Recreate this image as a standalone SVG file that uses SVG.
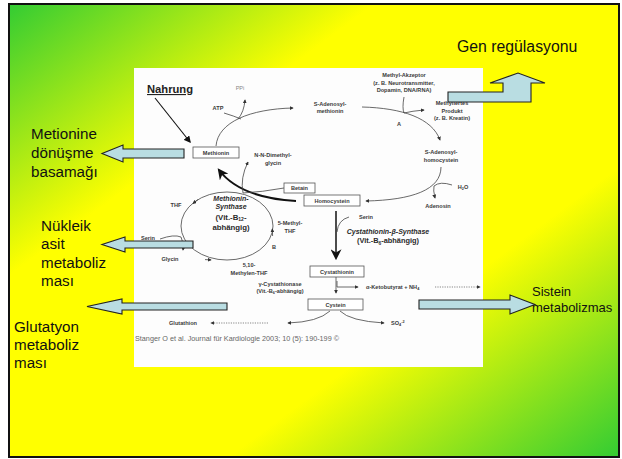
<svg xmlns="http://www.w3.org/2000/svg" width="622" height="459" viewBox="0 0 622 459">
<style>
.big{font-family:"Liberation Sans",Arial,sans-serif;font-size:15.2px;fill:#111}
.sm{font-family:"Liberation Sans",Arial,sans-serif;font-size:5.6px;font-weight:bold;fill:#3a3a3a;text-anchor:middle}
.md{font-family:"Liberation Sans",Arial,sans-serif;font-weight:bold;fill:#2a2a2a;text-anchor:middle}
.box{fill:#fff;stroke:#555;stroke-width:0.8}
.ln{fill:none;stroke:#444;stroke-width:0.8}
.dot{fill:none;stroke:#555;stroke-width:0.7;stroke-dasharray:1.2 1.2}
.thick{fill:none;stroke:#111}
.barrow{fill:#b9dde2;stroke:#222;stroke-width:1.1;stroke-linejoin:miter}
</style>
<defs>
<linearGradient id="bg" x1="0" y1="0" x2="1" y2="1">
<stop offset="0" stop-color="#33cc33"/>
<stop offset="0.3" stop-color="#ffff00"/>
<stop offset="0.68" stop-color="#ffff00"/>
<stop offset="1" stop-color="#33cc33"/>
</linearGradient>
<marker id="ah" viewBox="0 0 6 6" refX="5" refY="3" markerWidth="4" markerHeight="4" markerUnits="userSpaceOnUse" orient="auto"><path d="M0,0 L6,3 L0,6 z" fill="#333"/></marker>
<marker id="ahb" viewBox="0 0 10 10" refX="8" refY="5" markerWidth="11" markerHeight="11" markerUnits="userSpaceOnUse" orient="auto"><path d="M0,0 L10,5 L0,10 L3,5 z" fill="#111"/></marker>
<marker id="ahm" viewBox="0 0 10 10" refX="8" refY="5" markerWidth="7" markerHeight="7" markerUnits="userSpaceOnUse" orient="auto"><path d="M0,0 L10,5 L0,10 z" fill="#111"/></marker>
</defs>
<rect x="0" y="0" width="622" height="459" fill="#fff"/>
<rect x="9" y="4" width="610" height="453" fill="url(#bg)" stroke="#111" stroke-width="2"/>
<rect x="134" y="68" width="349" height="299" fill="#fdfdfd"/>

<g id="connectors">
<path class="thick" d="M155,98 L190,142" stroke-width="1.1" marker-end="url(#ahm)"/>
<path class="ln" d="M216,146 C218,122 250,109 293,108" marker-end="url(#ah)"/>
<path class="ln" d="M224,113 Q234,116 241,119"/>
<path class="ln" d="M238,119 Q244,112 245,100" marker-end="url(#ah)"/>
<path class="ln" d="M362,107 C402,108 432,118 440,140" marker-end="url(#ah)"/>
<path class="ln" d="M404,97 Q402,108 404,113"/>
<path class="ln" d="M404,113 Q412,111 424,110" marker-end="url(#ah)"/>
<path class="ln" d="M441,167 C441,190 412,200 366,201" marker-end="url(#ah)"/>
<path class="ln" d="M452,185 Q440,181 434,186 Q433,190 435,198" marker-end="url(#ah)"/>
<path class="thick" d="M296,201 C262,199 234,190 219,170" stroke-width="2" marker-end="url(#ahb)"/>
<ellipse class="ln" cx="227" cy="226" rx="46" ry="34"/>
<path class="ln" d="M205,259.6 L211,259.9" marker-end="url(#ah)"/>
<path class="ln" d="M272.6,236 L272.3,229" marker-end="url(#ah)"/>
<path class="ln" d="M198,199.5 L193,203.5" marker-end="url(#ah)"/>
<path class="ln" d="M284,188 Q262,192 243,193"/>
<path class="ln" d="M243,193 Q240,178 248,162" marker-end="url(#ah)"/>
<path class="ln" d="M160,239 Q174,234 181,237 Q184,243 183,250" marker-end="url(#ah)"/>
<path class="thick" d="M336,211 L336,258" stroke-width="1.5" marker-end="url(#ahb)"/>
<path class="ln" d="M349,217 Q338,220 337,232"/>
<path class="ln" d="M336,277 L336,293" marker-end="url(#ah)"/>
<path class="ln" d="M337,281 L337,287 L358,287" marker-end="url(#ah)"/>
<path class="dot" d="M435,287 L480,287" marker-end="url(#ah)"/>
<path class="ln" d="M340,311 Q350,321 384,323" marker-end="url(#ah)"/>
<path class="ln" d="M330,311 Q318,322 288,323" marker-end="url(#ah)"/>
<path class="dot" d="M268,323 L211,323" marker-end="url(#ah)"/>
</g>

<g id="nahrung"><text x="147" y="93" font-family="Liberation Sans,Arial,sans-serif" font-size="11.2" font-weight="bold" fill="#222" text-decoration="underline">Nahrung</text></g>
<g id="ppi"><text class="sm" x="240" y="90" style="fill:#888;font-weight:normal">PPi</text></g>
<g id="atp"><text class="sm" x="218" y="110">ATP</text></g>
<g id="methionin"><rect class="box" x="193" y="147" width="46" height="11"/><text class="sm" x="216" y="154.5">Methionin</text></g>
<g id="sam"><text class="sm" x="330" y="106">S-Adenosyl-</text><text class="sm" x="330" y="113">methionin</text></g>
<g id="akzeptor"><text class="sm" x="404" y="77">Methyl-Akzeptor</text><text class="sm" x="404" y="84.5">(z. B. Neurotransmitter,</text><text class="sm" x="404" y="92">Dopamin, DNA/RNA)</text></g>
<g id="produkt"><text class="sm" x="452" y="105">Methyliertes</text><text class="sm" x="452" y="112.5">Produkt</text><text class="sm" x="452" y="120">(z. B. Kreatin)</text></g>
<g id="labelA"><text class="sm" x="399" y="126">A</text></g>
<g id="sah"><text class="sm" x="441" y="154">S-Adenosyl-</text><text class="sm" x="441" y="161.5">homocystein</text></g>
<g id="h2o"><text class="sm" x="463" y="189">H<tspan font-size="3.8" dy="1.2">2</tspan><tspan dy="-1.2">O</tspan></text></g>
<g id="adenosin"><text class="sm" x="438" y="208">Adenosin</text></g>
<g id="dimethylglycin"><text class="sm" x="273" y="157">N-N-Dimethyl-</text><text class="sm" x="273" y="165">glycin</text></g>
<g id="betain"><rect class="box" x="284" y="183" width="31" height="10"/><text class="sm" x="299.5" y="190">Betain</text></g>
<g id="homocystein"><rect class="box" x="304" y="195" width="56" height="11"/><text class="sm" x="332" y="202.5">Homocystein</text></g>
<g id="synthase"><text class="md" x="231" y="201" font-size="7" font-style="italic">Methionin-</text><text class="md" x="231" y="209" font-size="7" font-style="italic">Synthase</text><text class="md" x="231" y="219.5" font-size="7.8">(Vit.-B<tspan font-size="5" dy="1.5">12</tspan><tspan dy="-1.5">-</tspan></text><text class="md" x="231" y="229.5" font-size="7.8">abhängig)</text></g>
<g id="thf"><text class="sm" x="176" y="207">THF</text></g>
<g id="methylthf"><text class="sm" x="290" y="225">5-Methyl-</text><text class="sm" x="290" y="233">THF</text></g>
<g id="labelB"><text class="sm" x="274" y="249">B</text></g>
<g id="serin1"><text class="sm" x="148" y="240">Serin</text></g>
<g id="glycin"><text class="sm" x="170" y="261">Glycin</text></g>
<g id="methylenthf"><text class="sm" x="249" y="267">5,10-</text><text class="sm" x="249" y="274.5">Methylen-THF</text></g>
<g id="serin2"><text class="sm" x="366" y="219">Serin</text></g>
<g id="cbs"><text class="md" x="388" y="234" font-size="7" font-style="italic">Cystathionin-β-Synthase</text><text class="md" x="388" y="243" font-size="7.4">(Vit.-B<tspan font-size="4.8" dy="1.5">6</tspan><tspan dy="-1.5">-abhängig)</tspan></text></g>
<g id="cystathionin"><rect class="box" x="310" y="266" width="54" height="11"/><text class="sm" x="337" y="273.5">Cystathionin</text></g>
<g id="cystathionase"><text class="sm" x="280" y="285.5">γ-Cystathionase</text><text class="sm" x="280" y="293">(Vit.-B<tspan font-size="3.8" dy="1.2">6</tspan><tspan dy="-1.2">-abhängig)</tspan></text></g>
<g id="ketobutyrat"><text class="sm" x="366" y="289" style="text-anchor:start">α-Ketobutyrat + NH<tspan font-size="3.8" dy="1.2">4</tspan></text></g>
<g id="cystein"><rect class="box" x="308" y="299" width="55" height="11"/><text class="sm" x="335.5" y="306.5">Cystein</text></g>
<g id="so4"><text class="sm" x="391" y="325" style="text-anchor:start">SO<tspan font-size="3.8" dy="1.2">4</tspan><tspan font-size="3.8" dy="-3">-2</tspan></text></g>
<g id="glutathion"><text class="sm" x="183" y="325">Glutathion</text></g>
<g id="source"><text x="135" y="340.5" font-family="Liberation Sans,Arial,sans-serif" font-size="6.5" fill="#666" textLength="204" lengthAdjust="spacingAndGlyphs">Stanger O et al. Journal für Kardiologie 2003; 10 (5): 190-199 ©</text></g>

<g id="arrow-gen"><polygon class="barrow" points="448,92 503,92 503,83 490,83 518,73 545,83 531,83 531,102 448,102"/></g>
<g id="arrow-metionine"><polygon class="barrow" points="184,149 123,149 123,145 102,153.5 123,162 123,158 184,158"/></g>
<g id="arrow-nukleik"><polygon class="barrow" points="193,241 125,241 125,237 102,244.5 125,252 125,248 193,248"/></g>
<g id="arrow-glutatyon"><polygon class="barrow" points="227,303 122,303 122,299 87,306.5 122,314 122,310 227,310"/></g>
<g id="arrow-sistein"><polygon class="barrow" points="419,300 510,300 510,295 535,304.5 510,314 510,309 419,309"/></g>

<g id="label-gen"><text class="big" x="457" y="52" style="font-size:15.8px">Gen regülasyonu</text></g>
<g id="label-metionine"><text class="big" x="31" y="139">Metionine</text><text class="big" x="31" y="158">dönüşme</text><text class="big" x="31" y="177">basamağı</text></g>
<g id="label-nukleik"><text class="big" x="41" y="231">Nükleik</text><text class="big" x="41" y="249">asit</text><text class="big" x="41" y="267.5">metaboliz</text><text class="big" x="41" y="286">ması</text></g>
<g id="label-glutatyon"><text class="big" x="14" y="332">Glutatyon</text><text class="big" x="14" y="350">metaboliz</text><text class="big" x="14" y="368">ması</text></g>
<g id="label-sistein"><text class="big" x="532" y="296" style="font-size:13px">Sistein</text><text class="big" x="532" y="312" style="font-size:13px">metabolizmas</text></g>
</svg>
